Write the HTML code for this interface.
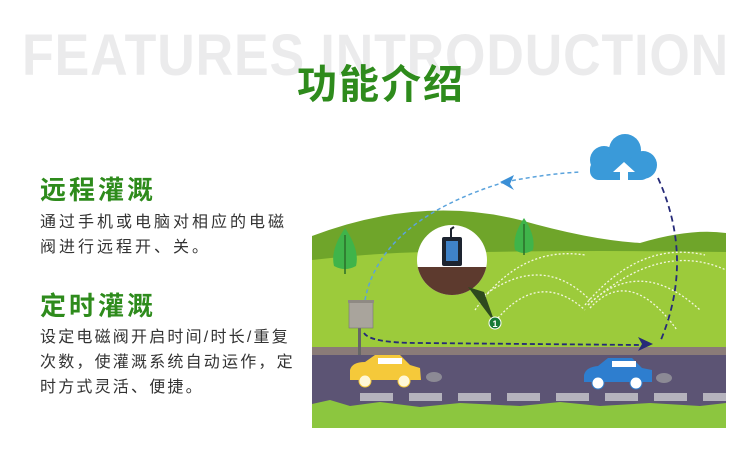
<!DOCTYPE html>
<html><head><meta charset="utf-8"><style>
body{margin:0;width:750px;height:468px;background:#fff;position:relative;overflow:hidden;font-family:"Liberation Sans","Noto Sans CJK SC",sans-serif}
.bg{position:absolute;left:22px;top:22px;font:bold 58px "Liberation Sans",sans-serif;color:#ebebec;white-space:nowrap;transform-origin:0 0;transform:scaleX(0.895);letter-spacing:1px}
.t{position:absolute;left:0;width:762px;text-align:center;top:52px;font-weight:bold;font-size:40px;color:#2e8b1c;letter-spacing:2px}
.h{position:absolute;left:40px;font-weight:bold;font-size:26px;color:#2e8b1c;letter-spacing:3px}
.p{position:absolute;left:40px;font-size:16px;color:#333;line-height:25px;letter-spacing:3px;white-space:nowrap}
</style></head><body>
<div class="bg">FEATURES INTRODUCTION</div>
<div class="t">功能介绍</div>
<div class="h" style="top:170px">远程灌溉</div>
<div class="p" style="top:210px">通过手机或电脑对相应的电磁<br>阀进行远程开、关。</div>
<div class="h" style="top:286px">定时灌溉</div>
<div class="p" style="top:325px;letter-spacing:2.2px">设定电磁阀开启时间/时长/重复<br>次数，使灌溉系统自动运作，定<br>时方式灵活、便捷。</div>
<svg width="750" height="468" style="position:absolute;left:0;top:0">
<defs><clipPath id="c"><rect x="312" y="130" width="414" height="298"/></clipPath>
<clipPath id="cc"><circle cx="452" cy="260" r="35"/></clipPath></defs>
<g clip-path="url(#c)">
<path d="M312 236 Q420 195 520 220 Q590 240 640 243 Q690 228 726 233 L726 430 L312 430Z" fill="#6fa52a"/>
<path d="M312 260 Q400 250 480 252 Q600 250 726 252 L726 430 L312 430Z" fill="#9ccb3b"/>
<g fill="none" stroke="#f4f7e0" stroke-width="1.3" stroke-dasharray="2 2">
<path d="M475 310 Q520 245 585 255"/><path d="M478 300 Q540 250 590 300"/><path d="M498 318 Q540 270 585 310"/>
<path d="M585 305 Q640 240 705 255"/><path d="M588 305 Q640 255 700 310"/><path d="M590 308 Q630 265 677 330"/>
<path d="M588 305 Q660 240 726 270"/>
</g>
<rect x="312" y="347" width="414" height="8" fill="#8a7b78"/>
<rect x="312" y="355" width="414" height="52" fill="#5c5474"/>
<g fill="#b5b3bd"><rect x="360" y="393" width="33" height="8"/><rect x="409" y="393" width="33" height="8"/><rect x="458" y="393" width="33" height="8"/><rect x="507" y="393" width="33" height="8"/><rect x="556" y="393" width="33" height="8"/><rect x="605" y="393" width="33" height="8"/><rect x="654" y="393" width="33" height="8"/><rect x="703" y="393" width="33" height="8"/></g>
<path d="M312 404 L330 400 L350 406 L380 402 L420 407 L460 403 L520 406 L560 402 L600 406 L650 403 L700 406 L726 403 L726 430 L312 430Z" fill="#8cc63f"/>
<g fill="#3fb44a"><path d="M345 228 Q360 250 356 266 Q345 272 334 266 Q330 250 345 228Z"/><path d="M524 218 Q536 236 533 250 Q524 256 515 250 Q512 236 524 218Z"/></g>
<path d="M345 235 V274 M524 224 V255" stroke="#2b6e2a" stroke-width="1.5"/>
<circle cx="452" cy="260" r="35" fill="#fff"/>
<g clip-path="url(#cc)"><rect x="410" y="267" width="90" height="40" fill="#5d3a2e"/></g>
<path d="M468 287 L495 323 L484 292Z" fill="#2d4a1e"/>
<rect x="442" y="237" width="20" height="29" rx="2" fill="#1d2430"/><rect x="446" y="241" width="12" height="20" fill="#3f82c8"/>
<path d="M451 237 V229 L454 227" stroke="#1d2430" stroke-width="2" fill="none"/>
<circle cx="495" cy="323" r="6" fill="#167a35" stroke="#fff" stroke-width="1"/>
<text x="495" y="327" font-size="9" font-weight="bold" fill="#fff" text-anchor="middle" font-family="Liberation Sans">1</text>
<rect x="358" y="327" width="3" height="28" fill="#666"/>
<rect x="349" y="301" width="24" height="27" fill="#a9a49c" stroke="#777" stroke-width="0.6"/><rect x="348" y="300" width="26" height="3" fill="#8f8a83"/>
<path d="M365 300 Q380 220 505 182" fill="none" stroke="#5ba3dc" stroke-width="1.5" stroke-dasharray="4 3"/>
<path d="M505 182 Q545 174 580 172" fill="none" stroke="#5ba3dc" stroke-width="1.5" stroke-dasharray="4 3"/>
<path d="M500 182 L514 175 L510 184 L514 190Z" fill="#3a8fd6"/>
<path d="M364 333 Q370 343 420 343 L640 345" fill="none" stroke="#262a78" stroke-width="1.8" stroke-dasharray="5 3"/>
<path d="M658 178 Q695 260 660 342" fill="none" stroke="#262a78" stroke-width="1.8" stroke-dasharray="6 4"/>
<path d="M653 344 L638 337 L642 344 L638 351Z" fill="#262a78"/>
<g fill="#3a9ad9"><circle cx="604" cy="160" r="14"/><circle cx="625" cy="150" r="16"/><circle cx="643" cy="165" r="14"/><rect x="590" y="160" width="60" height="20" rx="9"/></g>
<path d="M620 186 V172 H613 L624 162 L635 172 H628 V186Z" fill="#fff"/>
<path d="M350 370 Q352 362 365 362 L375 355 L400 355 L410 365 L420 368 L421 380 L350 380Z" fill="#f5c93a"/>
<rect x="378" y="358" width="24" height="6" fill="#fff"/>
<circle cx="365" cy="381" r="6" fill="#fff8d8" stroke="#f5c93a"/><circle cx="404" cy="381" r="6" fill="#fff8d8" stroke="#f5c93a"/>
<ellipse cx="434" cy="377" rx="8" ry="5" fill="#8c8a95"/>
<path d="M584 375 Q586 367 598 366 L608 358 L632 358 L642 368 L652 370 L652 382 L584 382Z" fill="#2e7ecf"/>
<rect x="612" y="361" width="24" height="6" fill="#fff"/>
<circle cx="598" cy="383" r="6" fill="#fff" stroke="#2e7ecf"/><circle cx="636" cy="383" r="6" fill="#fff" stroke="#2e7ecf"/>
<ellipse cx="664" cy="378" rx="8" ry="5" fill="#8c8a95"/>
</g>
</svg>
</body></html>
